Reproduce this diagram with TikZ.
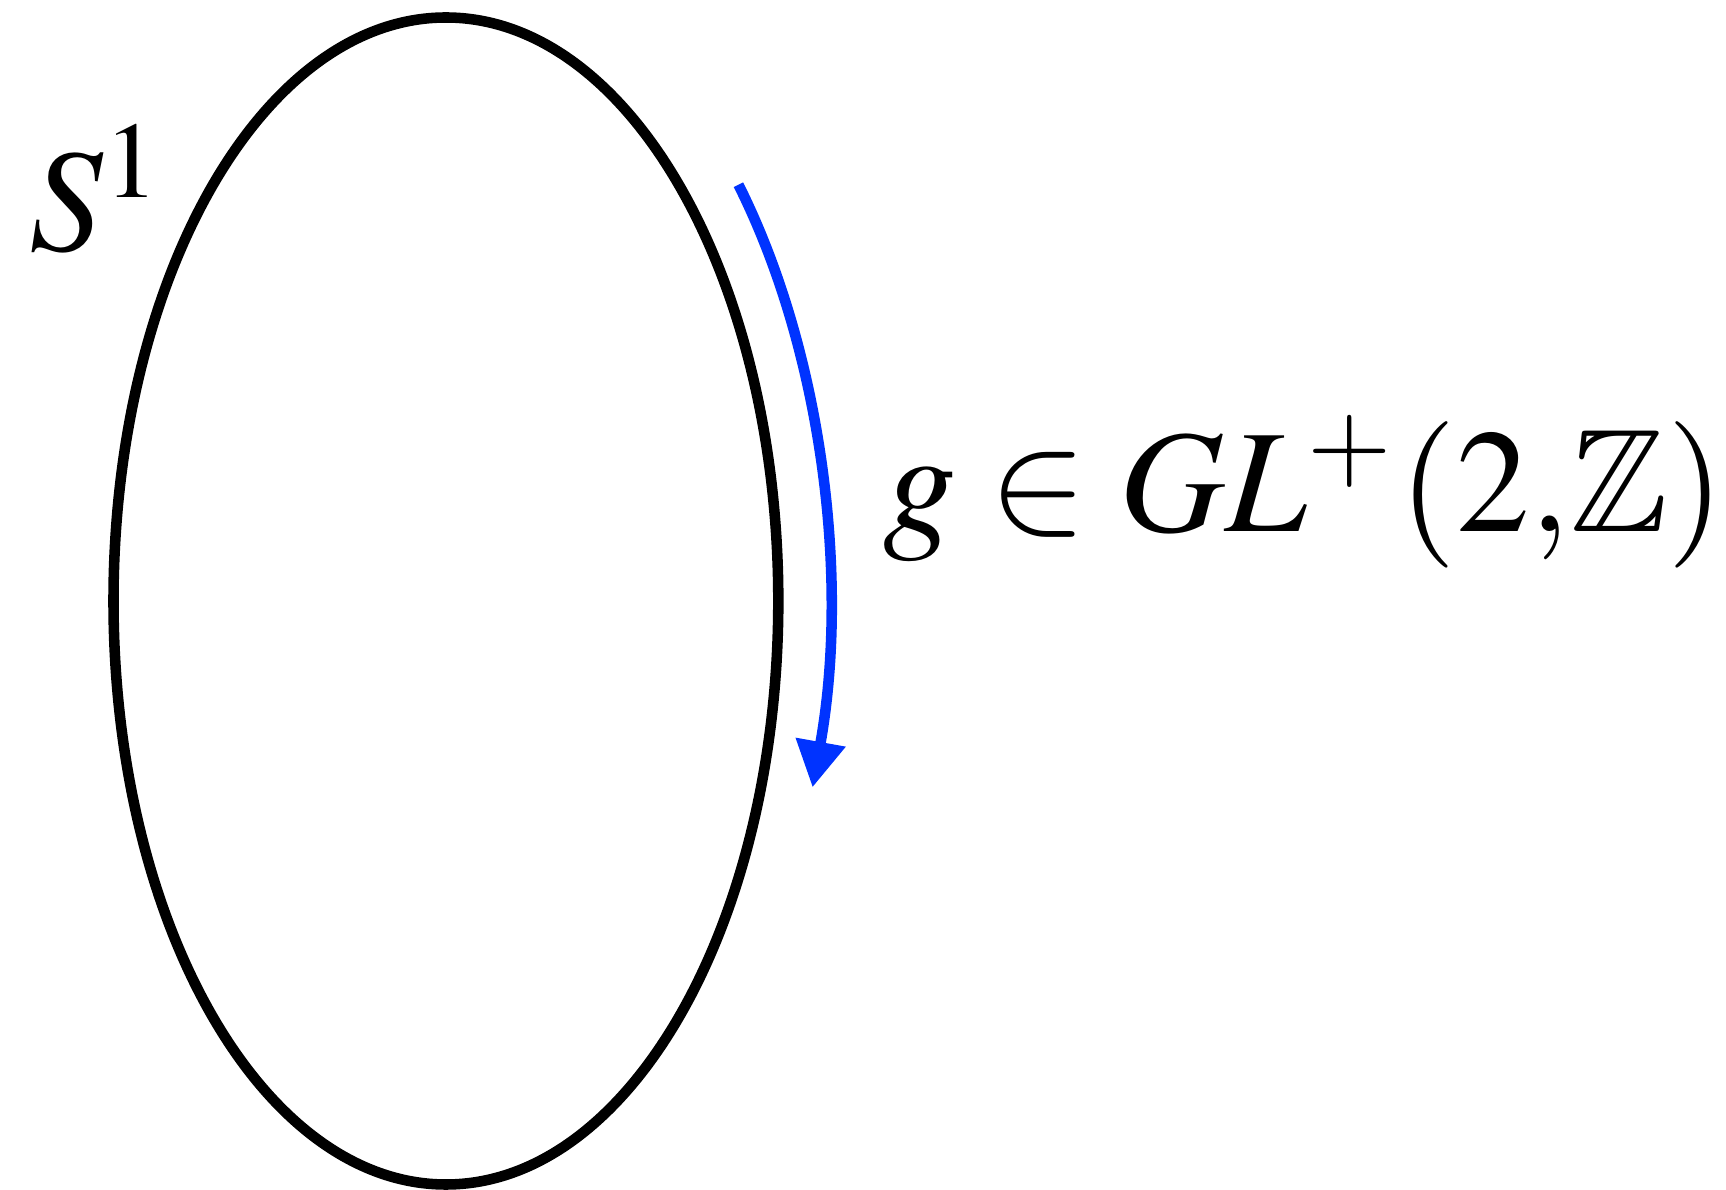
\documentclass[tikz,border=0pt]{standalone}
\usepackage{mathptmx}
\usepackage{amssymb}
\usetikzlibrary{arrows.meta,positioning,calc}

\begin{document}
\begin{tikzpicture}[
    loop/.style={draw=black, line width=3pt},
    action/.style={draw=actblue, line width=3pt, -{Triangle[length=4.6mm,width=4.8mm]}},
    lbl/.style={inner sep=0pt, scale=4.17, transform shape, font=\fontsize{10}{12}\selectfont}
]
\definecolor{actblue}{HTML}{0033FF}
\useasboundingbox (0,0) rectangle (17.26,11.89);
\coordinate (c) at (4.459,5.88);
\draw[loop] (c) ellipse [x radius=3.324, y radius=5.835];
\node[lbl, anchor=base west] (circ) at (0.27,9.38) {$S^1$};
\node[lbl, anchor=base west] (grp) at (8.81,6.57) {$g \in GL^{+}(2{,}\mathbb{Z})$};
\coordinate (start) at ($(c)+(40.2:3.83 and 6.45)$);
\draw[action] (start) arc [start angle=40.2, end angle=-16.8, x radius=3.83, y radius=6.45];
\end{tikzpicture}
\end{document}
